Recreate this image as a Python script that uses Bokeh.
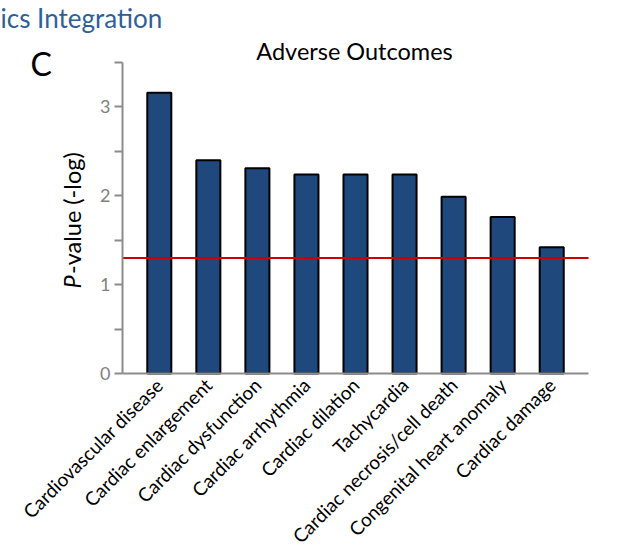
from math import pi

from bokeh.embed import file_html
from bokeh.models import FixedTicker, Label, Range1d
from bokeh.plotting import figure
from bokeh.resources import INLINE

# Adverse cardiac outcomes and their enrichment significance (-log10 P)
outcomes = [
    "Cardiovascular disease",
    "Cardiac enlargement",
    "Cardiac dysfunction",
    "Cardiac arrhythmia",
    "Cardiac dilation",
    "Tachycardia",
    "Cardiac necrosis/cell death",
    "Congenital heart anomaly",
    "Cardiac damage",
]
neg_log_p = [3.16, 2.40, 2.31, 2.24, 2.24, 2.24, 1.99, 1.76, 1.42]
threshold = 1.3  # -log10(0.05)
y_ticks = [0, 0.5, 1, 1.5, 2, 2.5, 3, 3.5]
y_tick_labels = ["0", "", "1", "", "2", "", "3", ""]

FONT = "Lato"
BAR_BLUE = "#1f497d"
AXIS_GREY = "#8c8c8c"

W, H = 621, 555
# Plot box inside the canvas (pixels) and the value span it shows
BOX_LEFT, BOX_RIGHT, BOX_TOP, BOX_BOTTOM = 122, 588, 62, 373
X_MIN, X_MAX = -0.75, len(outcomes) - 0.25
Y_MIN, Y_MAX = 0.0, 3.5

x_scale = (BOX_RIGHT - BOX_LEFT) / (X_MAX - X_MIN)
y_scale = (BOX_BOTTOM - BOX_TOP) / (Y_MAX - Y_MIN)


def dx(px):
    return X_MIN + (px - BOX_LEFT) / x_scale


def dy(py):
    return Y_MIN + (BOX_BOTTOM - py) / y_scale


positions = list(range(len(outcomes)))

# The frame fills the whole canvas; the axes sit at fixed spots inside it so that
# the headings and the axis title beside the plot box remain visible.
p = figure(
    width=W,
    height=H,
    min_border=0,
    x_range=Range1d(dx(0), dx(W)),
    y_range=Range1d(dy(H), dy(0)),
    output_backend="svg",
    toolbar_location=None,
    title=None,
    background_fill_color="white",
    border_fill_color="white",
)
p.outline_line_color = None
p.xgrid.visible = False
p.ygrid.visible = False

p.vbar(x=positions, top=neg_log_p, width=0.49, fill_color=BAR_BLUE,
       line_color="black", line_width=2)

# significance threshold across the plot box
p.segment(x0=[X_MIN], x1=[X_MAX], y0=[threshold], y1=[threshold],
          line_color="#cc0000", line_width=2)

# y axis: ticks every 0.5, labels at integers
yax = p.yaxis[0]
yax.fixed_location = X_MIN
yax.bounds = (Y_MIN, Y_MAX)
yax.ticker = FixedTicker(ticks=y_ticks, minor_ticks=[])
yax.major_label_overrides = {t: lab for t, lab in zip(y_ticks, y_tick_labels)}
yax.axis_line_color = AXIS_GREY
yax.axis_line_width = 2
yax.major_tick_line_color = AXIS_GREY
yax.major_tick_line_width = 2
yax.major_tick_out = 8
yax.major_tick_in = 0
yax.major_label_text_color = "#808080"
yax.major_label_text_font = FONT
yax.major_label_text_font_size = "18px"
yax.major_label_standoff = 4

# x axis: category names, rotated
xax = p.xaxis[0]
xax.fixed_location = Y_MIN
xax.bounds = (X_MIN, X_MAX)
xax.ticker = FixedTicker(ticks=positions, minor_ticks=[])
xax.major_label_overrides = {i: name for i, name in zip(positions, outcomes)}
xax.major_label_orientation = pi / 4
xax.axis_line_color = AXIS_GREY
xax.axis_line_width = 2
xax.major_tick_out = 0
xax.major_tick_in = 0
xax.major_label_text_color = "black"
xax.major_label_text_font = FONT
xax.major_label_text_font_size = "19px"
xax.major_label_standoff = 8

# Headings
p.add_layout(Label(x=dx(0), y=dy(17.5), text="ics Integration", text_align="left",
                   text_baseline="alphabetic", text_font=FONT,
                   text_font_size="26px", text_color="#2f5f9a"))
p.add_layout(Label(x=dx(354), y=dy(50), text="Adverse Outcomes", text_align="center",
                   text_baseline="alphabetic", text_font=FONT,
                   text_font_size="23.5px", text_color="black"))
p.add_layout(Label(x=dx(30), y=dy(63), text="C", text_align="left",
                   text_baseline="alphabetic", text_font=FONT,
                   text_font_size="32px", text_color="black"))

# y-axis title with an italic P
p.add_layout(Label(x=dx(71), y=dy(288), text="P", angle=pi / 2, text_align="left",
                   text_baseline="middle", text_font=FONT, text_font_style="italic",
                   text_font_size="23.5px", text_color="black"))
p.add_layout(Label(x=dx(71), y=dy(273.5), text="-value (-log)", angle=pi / 2,
                   text_align="left", text_baseline="middle", text_font=FONT,
                   text_font_size="23.5px", text_color="black"))

open("out.html", "w").write(file_html(p, INLINE))
